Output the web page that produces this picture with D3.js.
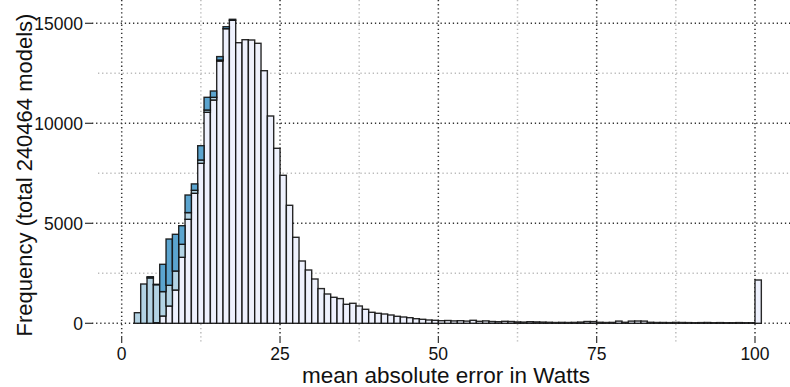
<!DOCTYPE html>
<html lang="en">
<head>
    <meta charset="UTF-8">
    <title>MAE histogram</title>
    <script src="https://d3js.org/d3.v7.min.js"></script>
    <style>
        body { margin: 0; background: #fff; }
        text { font-family: "Liberation Sans", Arial, sans-serif; fill: #111; }
        .major { stroke: #333; stroke-width: 1.5; stroke-dasharray: 1.3,2.8; fill: none; }
        .minor { stroke: #bbb; stroke-width: 1.5; stroke-dasharray: 1.3,2.8; fill: none; }
        .tick { stroke: #333; stroke-width: 1.2; }
        .bar { stroke: #111; stroke-opacity: 0.9; stroke-width: 1.4; }
    </style>
</head>
<body>
    <svg id="chart" width="790" height="387"></svg>
    <script>
        // bins of width 1 from 0 to 101 (last bin holds everything >= 100)
        const binStart = d3.range(0, 101);

        // bottom layer (lavender)
        const lowCounts = [
            0, 0, 0, 0, 0, 30, 365, 865, 1665, 3300,
            5200, 6500, 8000, 10550, 11165, 13115, 14730, 15150, 14030, 14180,
            14165, 14000, 12630, 10365, 8750, 7400, 5900, 4300, 3115, 2665,
            2215, 1735, 1465, 1300, 1235, 950, 1000, 865, 700, 550,
            500, 465, 415, 350, 315, 280, 230, 200, 165, 150,
            130, 140, 120, 130, 110, 150, 100, 120, 90, 80,
            100, 90, 70, 60, 80, 70, 60, 50, 40, 45,
            40, 45, 60, 90, 85, 50, 40, 45, 110, 50,
            110, 115, 110, 50, 40, 40, 35, 45, 40, 35,
            30, 35, 40, 30, 35, 30, 30, 35, 30, 30,
            2165
        ];
        // middle layer (light blue)
        const midCounts = [
            0, 0, 530, 1965, 2270, 1900, 1220, 1035, 950, 650,
            335, 150, 165, 115, 135, 50
        ];
        // top layer (steel blue)
        const topCounts = [
            0, 0, 0, 0, 60, 20, 1365, 2315, 1835, 930,
            880, 320, 715, 635, 315, 170, 100, 50
        ];

        const xTicks = [0, 25, 50, 75, 100];
        const xMinor = [12.5, 37.5, 62.5, 87.5];
        const yTicks = [0, 5000, 10000, 15000];
        const yMinor = [2500, 7500, 12500];

        const layers = [lowCounts, midCounts, topCounts];
        const colors = ["#eef1fd", "#b3d3e4", "#5ba4cf"];

        const svg = d3.select("#chart");
        const x = d3.scaleLinear().domain([0, 100]).range([121.7, 755]);
        const y = d3.scaleLinear().domain([0, 15000]).range([323.3, 23.3]);

        // grid lines
        svg.selectAll(".vminor").data(xMinor).enter().append("line")
            .attr("class", "minor")
            .attr("x1", d => x(d)).attr("x2", d => x(d))
            .attr("y1", 0).attr("y2", 342);
        svg.selectAll(".hminor").data(yMinor).enter().append("line")
            .attr("class", "minor")
            .attr("x1", 98).attr("x2", 790)
            .attr("y1", d => y(d)).attr("y2", d => y(d));
        svg.selectAll(".vmajor").data(xTicks).enter().append("line")
            .attr("class", "major")
            .attr("x1", d => x(d)).attr("x2", d => x(d))
            .attr("y1", 0).attr("y2", 336);
        svg.selectAll(".hmajor").data(yTicks).enter().append("line")
            .attr("class", "major")
            .attr("x1", 92).attr("x2", 790)
            .attr("y1", d => y(d)).attr("y2", d => y(d));

        // short solid tick ends
        svg.selectAll(".xt").data(xTicks).enter().append("line")
            .attr("class", "tick")
            .attr("x1", d => x(d)).attr("x2", d => x(d))
            .attr("y1", 336).attr("y2", 343);
        svg.selectAll(".yt").data(yTicks).enter().append("line")
            .attr("class", "tick")
            .attr("x1", 85).attr("x2", 92)
            .attr("y1", d => y(d)).attr("y2", d => y(d));

        // stacked bars
        const rows = binStart.map((b, i) => ({
            b,
            v: layers.map(l => l[i] || 0)
        }));
        const stack = d3.stack().keys([0, 1, 2]).value((d, k) => d.v[k]);
        const series = stack(rows);

        series.forEach((s, k) => {
            svg.append("g").selectAll("rect").data(s).enter().append("rect")
                .attr("class", "bar")
                .attr("fill", colors[k])
                .attr("x", d => x(d.data.b))
                .attr("width", x(1) - x(0))
                .attr("y", d => y(d[1]))
                .attr("height", d => y(d[0]) - y(d[1]));
        });

        // tick labels
        svg.selectAll(".xl").data(xTicks).enter().append("text")
            .attr("x", d => x(d)).attr("y", 360)
            .attr("text-anchor", "middle")
            .style("font-size", "17.5px")
            .text(d => d);
        svg.selectAll(".yl").data(yTicks).enter().append("text")
            .attr("x", 83).attr("y", d => y(d) + 6.5)
            .attr("text-anchor", "end")
            .style("font-size", "17.5px")
            .text(d => d);

        // axis titles
        svg.append("text")
            .attr("x", 446).attr("y", 383)
            .attr("text-anchor", "middle")
            .style("font-size", "22.5px")
            .text("mean absolute error in Watts");
        svg.append("text")
            .attr("transform", "translate(32,175) rotate(-90)")
            .attr("text-anchor", "middle")
            .style("font-size", "22px")
            .text("Frequency (total 240464 models)");
    </script>
</body>
</html>
